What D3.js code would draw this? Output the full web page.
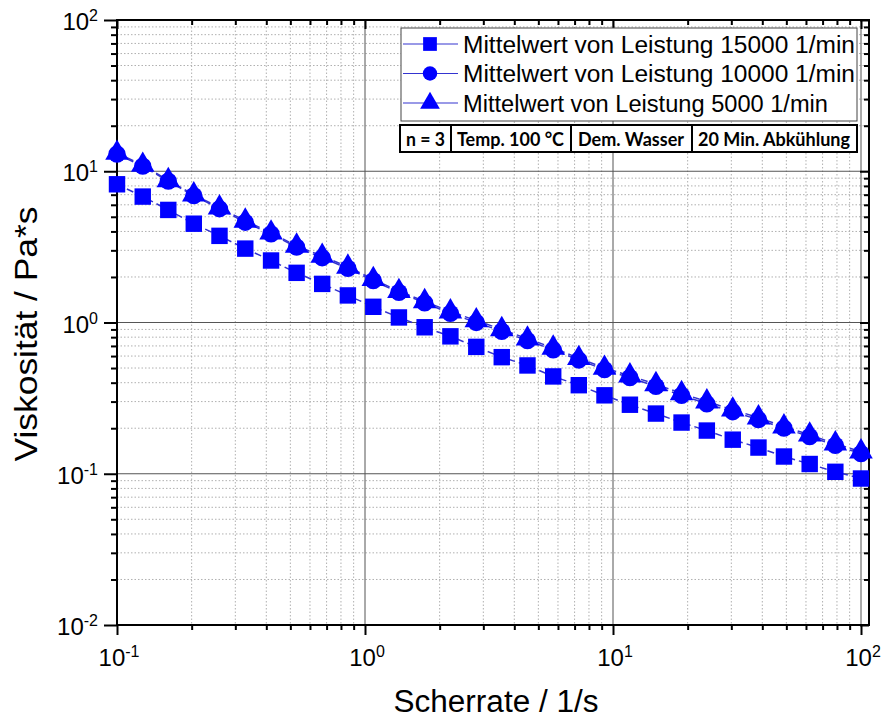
<!DOCTYPE html>
<html><head><meta charset="utf-8">
<script src="https://cdn.jsdelivr.net/npm/d3@7"></script>
<style>body{margin:0;background:#fff}svg{display:block}</style>
</head><body><svg id="c" width="881" height="720"></svg>
<script>
const shearRate = [0.1,0.127,0.161,0.204,0.259,0.329,0.418,0.530,0.672,0.853,1.08,1.37,1.74,2.21,2.81,3.56,4.52,5.74,7.28,9.24,11.7,14.9,18.9,23.9,30.4,38.6,48.9,62.1,78.8,100];
const visc15000 = [8.2,6.8,5.55,4.5,3.74,3.08,2.57,2.13,1.8,1.51,1.27,1.08,0.93,0.81,0.69,0.59,0.52,0.44,0.385,0.33,0.286,0.25,0.218,0.193,0.168,0.149,0.130,0.116,0.103,0.093];
const visc10000 = [13.0,10.8,8.6,6.9,5.65,4.6,3.85,3.15,2.68,2.28,1.89,1.58,1.35,1.15,1.0,0.875,0.76,0.66,0.565,0.488,0.432,0.378,0.33,0.29,0.257,0.228,0.2,0.176,0.154,0.136];
const visc5000 = [13.2,11.0,8.7,7.0,5.75,4.7,3.92,3.21,2.75,2.33,1.93,1.61,1.38,1.18,1.03,0.90,0.78,0.68,0.58,0.50,0.445,0.39,0.34,0.30,0.265,0.235,0.205,0.181,0.158,0.14];
const seriesNames = ["Mittelwert von Leistung 15000 1/min","Mittelwert von Leistung 10000 1/min","Mittelwert von Leistung 5000 1/min"];
const seriesSymbols = ["square","circle","triangle"];
const xTickExp = [-1,0,1,2];
const yTickExp = [-2,-1,0,1,2];
const infoCells = ["n = 3","Temp. 100 °C","Dem. Wasser","20 Min. Abkühlung"];
const xTitle = "Scherrate / 1/s";
const yTitle = "Viskosität / Pa*s";

const svg = d3.select("#c");
const L=117,R=869,T=20,B=625;
const x = d3.scaleLog().domain([0.1,100]).range([L,861]);
const y = d3.scaleLog().domain([0.01,100]).range([B,T]);
const blue="#0000ff", lineBlue="#3434d0";

const minorX=[],minorY=[];
for(let e=-1;e<2;e++)for(let k=2;k<=9;k++)minorX.push(k*Math.pow(10,e));
for(let e=-2;e<2;e++)for(let k=2;k<=9;k++)minorY.push(k*Math.pow(10,e));
const majorX=xTickExp.map(e=>Math.pow(10,e)), majorY=yTickExp.map(e=>Math.pow(10,e));

const g=svg.append("g");
g.selectAll(".mgx").data(minorX).join("line").attr("x1",d=>x(d)).attr("x2",d=>x(d)).attr("y1",T).attr("y2",B)
 .attr("stroke","#b0b0b0").attr("stroke-width",1).attr("stroke-dasharray","1.5,2");
g.selectAll(".mgy").data(minorY).join("line").attr("x1",L).attr("x2",R).attr("y1",d=>y(d)).attr("y2",d=>y(d))
 .attr("stroke","#b0b0b0").attr("stroke-width",1).attr("stroke-dasharray","1.5,2");
g.selectAll(".Mgx").data(majorX).join("line").attr("x1",d=>x(d)).attr("x2",d=>x(d)).attr("y1",T).attr("y2",B)
 .attr("stroke","#555").attr("stroke-width",1);
g.selectAll(".Mgy").data(majorY).join("line").attr("x1",L).attr("x2",R).attr("y1",d=>y(d)).attr("y2",d=>y(d))
 .attr("stroke","#555").attr("stroke-width",1);

svg.append("g").attr("transform",`translate(0,${B})`).call(d3.axisBottom(x).tickValues(majorX).tickFormat("").tickSize(10).tickSizeOuter(0));
svg.append("g").attr("transform",`translate(0,${B})`).call(d3.axisBottom(x).tickValues(minorX).tickFormat("").tickSize(5).tickSizeOuter(0));
svg.append("g").attr("transform",`translate(${L},0)`).call(d3.axisLeft(y).tickValues(majorY).tickFormat("").tickSize(13).tickSizeOuter(0));
svg.append("g").attr("transform",`translate(${L},0)`).call(d3.axisLeft(y).tickValues(minorY).tickFormat("").tickSize(6).tickSizeOuter(0));
svg.append("g").attr("transform",`translate(0,${T})`).call(d3.axisTop(x).tickValues(majorX).tickFormat("").tickSize(-9).tickSizeOuter(0));
svg.append("g").attr("transform",`translate(0,${T})`).call(d3.axisTop(x).tickValues(minorX).tickFormat("").tickSize(-5).tickSizeOuter(0));
svg.append("g").attr("transform",`translate(${R},0)`).call(d3.axisRight(y).tickValues(majorY).tickFormat("").tickSize(-9).tickSizeOuter(0));
svg.append("g").attr("transform",`translate(${R},0)`).call(d3.axisRight(y).tickValues(minorY).tickFormat("").tickSize(-5).tickSizeOuter(0));
svg.selectAll(".domain").remove();
svg.selectAll(".tick line").attr("stroke","#000").attr("stroke-width",2);

svg.append("rect").attr("x",L).attr("y",T).attr("width",R-L).attr("height",B-T).attr("fill","none").attr("stroke","#000").attr("stroke-width",2);

const fnt="Liberation Sans, Arial, sans-serif";
xTickExp.forEach(e=>{
  const t=svg.append("text").attr("x",x(Math.pow(10,e))+2).attr("y",666).attr("text-anchor","middle")
   .attr("font-family",fnt).attr("font-size",24).attr("fill","#000");
  t.append("tspan").text("10");
  t.append("tspan").attr("dy",-9).attr("font-size",16).text(String(e));
});
yTickExp.forEach(e=>{
  const t=svg.append("text").attr("x",98).attr("y",y(Math.pow(10,e))+10).attr("text-anchor","end")
   .attr("font-family",fnt).attr("font-size",24).attr("fill","#000");
  t.append("tspan").text("10");
  t.append("tspan").attr("dy",-9).attr("font-size",16).text(String(e));
});
svg.append("text").attr("x",496).attr("y",712).attr("text-anchor","middle").attr("font-family",fnt).attr("font-size",31)
  .attr("textLength",205).attr("lengthAdjust","spacingAndGlyphs").text(xTitle);
svg.append("text").attr("transform","translate(37,334) rotate(-90)").attr("text-anchor","middle").attr("font-family",fnt).attr("font-size",31)
  .attr("textLength",255).attr("lengthAdjust","spacingAndGlyphs").text(yTitle);

const series=[visc15000,visc10000,visc5000];
const symTypes={square:d3.symbolSquare,circle:d3.symbolCircle,triangle:d3.symbolTriangle};
const symSizes={square:270,circle:235,triangle:240};
const line=d3.line().x(d=>x(d[0])).y(d=>y(d[1]));
series.forEach((vals,i)=>{
  const pts=shearRate.map((s,j)=>[s,vals[j]]);
  svg.append("path").datum(pts).attr("d",line).attr("fill","none").attr("stroke",lineBlue).attr("stroke-width",1.5).attr("stroke-dasharray","7,4");
});
series.forEach((vals,i)=>{
  const sym=d3.symbol().type(symTypes[seriesSymbols[i]]).size(symSizes[seriesSymbols[i]]);
  svg.append("g").selectAll("path").data(shearRate.map((s,j)=>[s,vals[j]])).join("path")
   .attr("transform",d=>`translate(${x(d[0])},${y(d[1])})`).attr("d",sym).attr("fill",blue);
});

// legend
const lg=svg.append("g");
lg.append("rect").attr("x",401).attr("y",28).attr("width",456).attr("height",93).attr("fill","#fff").attr("stroke","#444").attr("stroke-width",1);
const legLen=[392,392,365];
seriesNames.forEach((n,i)=>{
  const cy=44+i*29.5;
  lg.append("line").attr("x1",403).attr("x2",458).attr("y1",cy).attr("y2",cy).attr("stroke",lineBlue).attr("stroke-width",1.2);
  lg.append("path").attr("transform",`translate(430,${cy})`).attr("d",d3.symbol().type(symTypes[seriesSymbols[i]]).size(symSizes[seriesSymbols[i]]*0.7)()).attr("fill",blue);
  lg.append("text").attr("x",463).attr("y",cy+8.5).attr("font-family",fnt).attr("font-size",23.5)
    .attr("textLength",legLen[i]).attr("lengthAdjust","spacingAndGlyphs").text(n);
});
// info box
const cellX=[400,451,571,692,857];
const textSpan=[[406,445],[457,564],[578,684],[698,850]];
const ib=svg.append("g");
ib.append("rect").attr("x",400).attr("y",125).attr("width",457).attr("height",27).attr("fill","#fff").attr("stroke","#000").attr("stroke-width",2);
infoCells.forEach((t,i)=>{
  if(i>0) ib.append("line").attr("x1",cellX[i]).attr("x2",cellX[i]).attr("y1",125).attr("y2",152).attr("stroke","#000").attr("stroke-width",2);
  ib.append("text").attr("x",textSpan[i][0]).attr("y",146).attr("font-family","Lato, 'Open Sans', sans-serif").attr("font-weight","bold").attr("font-size",18.5)
    .attr("textLength",textSpan[i][1]-textSpan[i][0]).attr("lengthAdjust","spacingAndGlyphs").text(t);
});
</script></body></html>
